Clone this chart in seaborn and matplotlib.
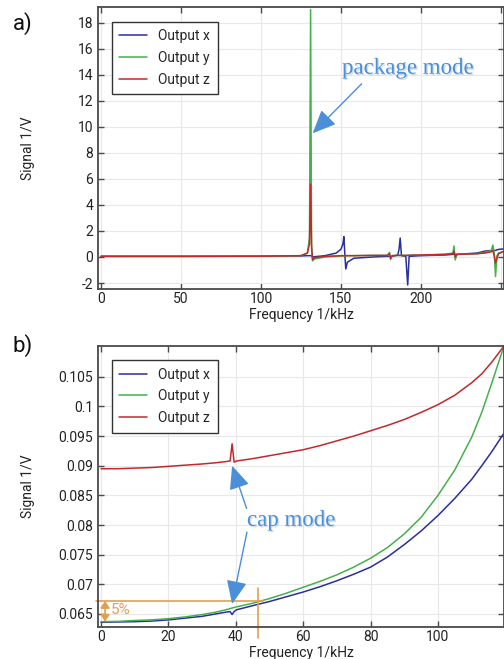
import numpy as np
import pandas as pd
import matplotlib
matplotlib.use("Agg")
import matplotlib.pyplot as plt
import matplotlib.patheffects as pe
import seaborn as sns

# ---- panel a: full sweep ----
freq_a = [0, 50, 100, 125, 129, 130.3, 131, 131.6, 132.2, 133.5, 140, 147, 150, 151.2,
          151.8, 152.5, 153, 154, 158, 170, 179, 180.3, 181, 182, 185.5, 186.3, 187,
          187.8, 190.5, 191.7, 192.6, 200, 215, 220, 220.6, 221.4, 222.5, 235, 240,
          244, 244.9, 245.8, 246.6, 247.5, 248.5, 251.5]
out_x_a = [0.05, 0.05, 0.06, 0.08, 0.1, 0.1, 0.1, 0.1, 0.0, 0.02, 0.1, 0.3, 0.6, 1.0,
           1.56, 0.0, -0.92, -0.4, -0.1, 0.0, 0.05, 0.05, 0.05, 0.05, 0.15, 0.6, 1.45,
           0.1, 0.05, -2.15, 0.05, 0.1, 0.15, 0.2, 0.2, 0.2, 0.2, 0.3, 0.45,
           0.5, 0.52, 0.5, 0.5, 0.55, 0.58, 0.62]
out_y_a = [0.05, 0.05, 0.06, 0.1, 0.3, 1.5, 19.0, 1.0, -0.3, -0.15, 0.0, 0.05, 0.08, 0.08,
           0.08, 0.08, 0.08, 0.1, 0.1, 0.12, 0.12, 0.35, -0.2, 0.1, 0.12, 0.12, 0.12,
           0.12, 0.12, 0.12, 0.13, 0.15, 0.2, 0.3, 0.85, -0.23, 0.2, 0.25, 0.35,
           0.5, 0.92, 0.3, -1.5, 0.1, 0.3, 0.42]
out_z_a = [0.05, 0.05, 0.06, 0.1, 0.3, 1.0, 5.6, 0.8, -0.2, -0.05, 0.05, 0.08, 0.1, 0.1,
           0.1, 0.1, 0.1, 0.1, 0.1, 0.12, 0.12, 0.25, -0.1, 0.1, 0.12, 0.12, 0.12,
           0.12, 0.12, 0.12, 0.13, 0.15, 0.2, 0.25, 0.45, 0.0, 0.2, 0.25, 0.3,
           0.4, 0.5, 0.1, -0.46, -0.1, 0.25, 0.42]

# ---- panel b: zoom on low frequencies ----
freq_b = [0, 5, 10, 15, 20, 25, 30, 34, 37, 38.3, 38.9, 39.5, 40.2, 45, 50, 55, 60, 65,
          70, 75, 80, 85, 90, 95, 100, 105, 110, 113, 116, 119.6]
out_x_b = [0.0636, 0.06365, 0.0637, 0.0638, 0.0640, 0.0643, 0.0646, 0.0650, 0.0653,
           0.0654, 0.0649, 0.0654, 0.0657, 0.0664, 0.0671, 0.0679, 0.0687, 0.0696,
           0.0706, 0.0717, 0.0729, 0.0746, 0.0767, 0.0790, 0.0816, 0.0845, 0.0877,
           0.0900, 0.0924, 0.0955]
out_y_b = [0.0637, 0.06375, 0.0639, 0.0640, 0.0642, 0.0645, 0.0649, 0.0653, 0.0657,
           0.0659, 0.0660, 0.0661, 0.0662, 0.0668, 0.0676, 0.0685, 0.0695, 0.0705,
           0.0716, 0.0729, 0.0744, 0.0762, 0.0785, 0.0813, 0.0850, 0.0893, 0.0948,
           0.0990, 0.1040, 0.1102]
out_z_b = [0.0895, 0.0895, 0.0896, 0.0897, 0.0899, 0.0901, 0.0903, 0.0905, 0.0907,
           0.0908, 0.0937, 0.0906, 0.0908, 0.0912, 0.0917, 0.0922, 0.0927, 0.0934,
           0.0942, 0.0950, 0.0959, 0.0968, 0.0978, 0.0990, 0.1003, 0.1019, 0.1040,
           0.1055, 0.1075, 0.1102]

series_names = ["Output x", "Output y", "Output z"]
colors = ["#2b2e9e", "#45b04c", "#c2292d"]

xticks_a = [0, 50, 100, 150, 200, 250]
xtick_labels_a = ["0", "50", "100", "150", "200", ""]
yticks_a = [-2, 0, 2, 4, 6, 8, 10, 12, 14, 16, 18]
xticks_b = [0, 20, 40, 60, 80, 100]
yticks_b = [0.065, 0.07, 0.075, 0.08, 0.085, 0.09, 0.095, 0.1, 0.105]
ytick_labels_b = ["0.065", "0.07", "0.075", "0.08", "0.085", "0.09", "0.095", "0.1", "0.105"]

sns.set_style("ticks")
plt.rcParams["font.family"] = ["Roboto", "DejaVu Sans"]
plt.rcParams["font.size"] = 10
plt.rcParams["axes.unicode_minus"] = False

ann_color = "#4a8fd8"
orange = "#e0a050"


def long_df(freq, cols):
    parts = []
    for name, vals in zip(series_names, cols):
        parts.append(pd.DataFrame({"Frequency": freq, "Signal": vals, "Series": name}))
    return pd.concat(parts, ignore_index=True)


def style_axes(ax, legend_top):
    for s in ax.spines.values():
        s.set_color("#4a4a4a")
        s.set_linewidth(1.3)
    ax.tick_params(direction="in", length=4, width=1, color="#4a4a4a",
                   top=True, right=True, labelsize=10, labelcolor="#222222")
    ax.tick_params(axis="x", pad=2)
    ax.grid(True, color="#e8e8e8", linewidth=0.8)
    ax.set_axisbelow(True)
    ax.set_xlabel("Frequency 1/kHz", fontsize=10, color="#222222")
    ax.set_ylabel("Signal 1/V", fontsize=10, color="#222222")
    leg = ax.legend(loc="upper left", bbox_to_anchor=(0.034, legend_top), borderaxespad=0,
                    fancybox=False, edgecolor="#333333", framealpha=1, fontsize=10,
                    handlelength=2.0, labelspacing=0.55, borderpad=0.55)
    leg.get_frame().set_linewidth(1.0)
    ax.yaxis.set_label_coords(-0.155, 0.5)
    ax.xaxis.set_label_coords(0.5, -0.069)


fig = plt.figure(figsize=(5.04, 6.59), dpi=100)
ax_a = fig.add_axes([98 / 504, 1 - 289 / 659, 406 / 504, 282 / 659])
ax_b = fig.add_axes([98 / 504, 1 - 627 / 659, 406 / 504, 281 / 659])

sns.lineplot(data=long_df(freq_a, [out_x_a, out_y_a, out_z_a]), x="Frequency", y="Signal",
             hue="Series", palette=colors, estimator=None, linewidth=1.1, ax=ax_a)
sns.lineplot(data=long_df(freq_b, [out_x_b, out_y_b, out_z_b]), x="Frequency", y="Signal",
             hue="Series", palette=colors, estimator=None, linewidth=1.1, ax=ax_b)

ax_a.set_xlim(-1.9, 251.9)
ax_a.set_ylim(-2.46, 19.2)
ax_a.set_xticks(xticks_a, xtick_labels_a)
ax_a.set_yticks(yticks_a)
style_axes(ax_a, 0.948)

ax_b.set_xlim(-0.9, 119.6)
ax_b.set_ylim(0.0628, 0.1102)
ax_b.set_xticks(xticks_b)
ax_b.set_yticks(yticks_b, ytick_labels_b)
style_axes(ax_b, 0.950)

shadow = [pe.withSimplePatchShadow(offset=(1, -1), shadow_rgbFace="#7f9fbf", alpha=0.35)]
serif = ["Liberation Serif", "DejaVu Serif"]
arrow_blue = dict(arrowstyle="-|>,head_length=0.8,head_width=0.35", mutation_scale=18,
                  color=ann_color, lw=1.0, shrinkA=0, shrinkB=0)

# package mode annotation
ax_a.text(150.6, 14.5, "package mode", color=ann_color, fontsize=16.5, family=serif,
          va="center", ha="left", path_effects=shadow)
ax_a.annotate("", xy=(132.3, 9.5), xytext=(162.9, 13.3), arrowprops=arrow_blue)

# cap mode annotation
ax_b.text(43.3, 0.0808, "cap mode", color=ann_color, fontsize=16.5, family=serif,
          va="center", ha="left", path_effects=shadow)
ax_b.annotate("", xy=(38.9, 0.0900), xytext=(43.2, 0.0828), arrowprops=arrow_blue)
ax_b.annotate("", xy=(38.9, 0.0667), xytext=(43.3, 0.0788), arrowprops=arrow_blue)

# 5% marker
ax_b.plot([-1.5, 48], [0.0672, 0.0672], color=orange, lw=1.2, clip_on=False)
ax_b.plot([46.5, 46.5], [0.0694, 0.0610], color=orange, lw=1.2, clip_on=False)
ax_b.annotate("", xy=(1.2, 0.0637), xytext=(1.2, 0.0672),
              arrowprops=dict(arrowstyle="<|-|>,head_length=0.45,head_width=0.3",
                              mutation_scale=9, color=orange, lw=1.2,
                              shrinkA=0, shrinkB=0))
ax_b.text(2.9, 0.0656, "5%", color=orange, fontsize=11, va="center", ha="left")

fig.text(13 / 504, 1 - 24 / 659, "a)", fontsize=16, va="center", ha="left", color="#111111")
fig.text(13 / 504, 1 - 346 / 659, "b)", fontsize=16, va="center", ha="left", color="#111111")

fig.savefig("out.png", dpi=100)
